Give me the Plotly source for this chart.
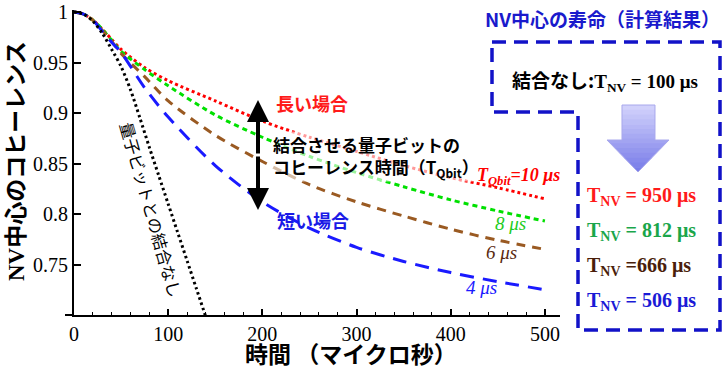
import plotly.graph_objects as go

# ---------------- data ----------------
t_grid = [0, 10, 20, 30, 40, 50, 75, 100, 150, 200, 250, 300, 350, 400, 450, 500]
coh_10us = [1, 0.998, 0.992, 0.983, 0.973, 0.963, 0.945, 0.932, 0.912, 0.892, 0.876, 0.862, 0.848, 0.836, 0.826, 0.815]
coh_8us = [1, 0.998, 0.992, 0.983, 0.972, 0.961, 0.943, 0.927, 0.898, 0.876, 0.857, 0.841, 0.827, 0.814, 0.803, 0.793]
coh_6us = [1, 0.998, 0.992, 0.982, 0.971, 0.959, 0.936, 0.912, 0.878, 0.852, 0.829, 0.812, 0.798, 0.785, 0.774, 0.765]
coh_4us = [1, 0.998, 0.992, 0.981, 0.970, 0.960, 0.925, 0.896, 0.848, 0.812, 0.786, 0.767, 0.753, 0.742, 0.733, 0.725]
t_free = [0, 10, 20, 30, 40, 50, 60, 70, 80, 90, 100, 110, 120, 130, 140]
coh_free = [1, 0.998, 0.991, 0.979, 0.963, 0.946, 0.923, 0.895, 0.866, 0.838, 0.810, 0.782, 0.754, 0.726, 0.698]

x_ticks = [0, 100, 200, 300, 400, 500]
y_ticks = [0.75, 0.8, 0.85, 0.9, 0.95, 1.0]
y_ticktext = ["0.75", "0.8", "0.85", "0.9", "0.95", "1"]

qbit_labels = ["T<sub>Qbit</sub>=10 μs", "8 μs", "6 μs", "4 μs"]
tnv_labels = ["T<sub>NV</sub> = 950 μs", "T<sub>NV</sub> = 812 μs", "T<sub>NV</sub> =666 μs", "T<sub>NV</sub> = 506 μs"]

# ---------------- layout constants ----------------
W, H = 727, 368
L, R, T, B = 74, 167, 10, 53
PW, PH = W - L - R, H - T - B


def px(x, y):
    return (x - L) / PW, (H - B - y) / PH


SERIF = "Liberation Serif"
JP = "Noto Sans CJK JP"

RED = "#ff0000"
GREEN = "#00e000"
BROWN = "#9a5a22"
BLUE = "#1a1aff"

fig = go.Figure()

styles = [
    (coh_10us, RED, "3px,3px"),
    (coh_8us, GREEN, "5px,4px"),
    (coh_6us, BROWN, "9px,7px"),
    (coh_4us, BLUE, "14px,9px"),
]
for ys, col, dash in styles:
    fig.add_trace(go.Scatter(x=t_grid, y=ys, mode="lines",
                             line=dict(color=col, width=3, dash=dash, shape="spline", smoothing=0.8),
                             showlegend=False, hoverinfo="skip"))
fig.add_trace(go.Scatter(x=t_free, y=coh_free, mode="lines",
                         line=dict(color="black", width=3, dash="2.5px,3px", shape="spline", smoothing=0.8),
                         showlegend=False, hoverinfo="skip"))

fig.update_layout(
    width=W, height=H,
    margin=dict(l=L, r=R, t=T, b=B, autoexpand=False),
    paper_bgcolor="white", plot_bgcolor="white",
    font=dict(family=SERIF, size=20, color="black"),
    xaxis=dict(range=[0, 516], tickvals=x_ticks, ticks="inside", ticklen=6, tickwidth=1.5,
               tickcolor="black", showline=True, linecolor="black", linewidth=2, showgrid=False,
               zeroline=False, tickfont=dict(family=SERIF, size=20), automargin=False,
               minor=dict(dtick=20, ticks="inside", ticklen=3, tickcolor="black", tickwidth=1, showgrid=False)),
    yaxis=dict(range=[0.7, 1.002], tickvals=y_ticks, ticktext=y_ticktext, ticks="inside", ticklen=7,
               tickwidth=1.5, tickcolor="black", showline=True, linecolor="black", linewidth=2,
               showgrid=False, zeroline=False, tickfont=dict(family=SERIF, size=20), automargin=False),
)

ann = []


def add_text(x, y, text, size, color="black", family=JP, bold=True, italic=False, angle=0,
             xanchor="center", bg=None, align="center"):
    xp, yp = px(x, y)
    d = dict(x=xp, y=yp, xref="paper", yref="paper", text=text, showarrow=False,
             xanchor=xanchor, yanchor="middle", textangle=angle, align=align,
             font=dict(family=family, size=size, color=color,
                       weight="bold" if bold else "normal",
                       style="italic" if italic else "normal"))
    if bg:
        d["bgcolor"] = bg
        d["borderpad"] = 0
    ann.append(d)


# axis titles
add_text(14, 161, "<span style='font-family:Liberation Serif'>NV</span>中心のコヒーレンス", 23, angle=-90)
add_text(243, 353, "時間 （マイクロ秒）", 23, xanchor="left")

# in-plot labels
add_text(312, 103, "長い場合", 18, color="#ff1a1a")
add_text(313, 220, "短い場合", 18, color="#1a1ae6")
add_text(272, 156, "結合させる量子ビットの<br>コヒーレンス時間（T<sub>Qbit</sub>）", 17,
         xanchor="left", bg="rgba(255,255,255,0.6)", align="left")
add_text(151, 209, "量子ビットとの結合なし", 16.5, angle=74, bold=False)

add_text(518, 176, qbit_labels[0], 18, color=RED, family=SERIF, italic=True)
add_text(510, 223, qbit_labels[1], 19, color="#22cc22", family=SERIF, italic=True, bold=False)
add_text(501, 252, qbit_labels[2], 19, color="#5a2a10", family=SERIF, italic=True, bold=False)
add_text(481, 287, qbit_labels[3], 19, color=BLUE, family=SERIF, italic=True, bold=False)

# right panel
add_text(602, 18, "NV中心の寿命（計算結果）", 19, color="#1a1acc")
add_text(510, 80, "結合なし:<span style='font-family:Liberation Serif'>T<sub>NV</sub> = 100 μs</span>", 19,
         xanchor="left")
tnv_colors = ["#ff1a1a", "#1aa64a", "#4a1e0a", "#1a1ad6"]
tnv_y = [196, 231, 266, 301]
for lab, col, yy in zip(tnv_labels, tnv_colors, tnv_y):
    add_text(585, yy, lab, 20, color=col, family=SERIF, xanchor="left")

# double arrow
for tip_y, ay in [(100, 55), (210, -55)]:
    xp, yp = px(258, tip_y)
    ann.append(dict(x=xp, y=yp, xref="paper", yref="paper", ax=0, ay=ay, text="",
                    showarrow=True, arrowhead=2, arrowsize=1.1, arrowwidth=4, arrowcolor="black"))

fig.update_layout(annotations=ann)

shapes = []


def path(points, close=True):
    s = ""
    for i, (x, y) in enumerate(points):
        xp, yp = px(x, y)
        s += ("M" if i == 0 else "L") + f"{xp:.5f},{yp:.5f} "
    return s + ("Z" if close else "")


# dashed outline box
box = [(492, 42), (720, 42), (720, 330), (578, 330), (578, 112), (492, 112)]
shapes.append(dict(type="path", xref="paper", yref="paper", path=path(box),
                   line=dict(color="#1212c8", width=3.5, dash="14px,8px")))

# gradient down arrow (horizontal slices)
sx0, sx1, stop, sbot = 622, 655, 105, 140
hx0, hx1, tipy = 607, 669, 172
tipx = (hx0 + hx1) / 2


def arrow_halfwidth(y):
    return (hx1 - hx0) / 2 * (tipy - y) / (tipy - sbot)


n = 14
c0 = (212, 212, 252)
c1 = (118, 122, 232)
for i in range(n):
    y0 = stop + (tipy - stop) * i / n
    y1 = stop + (tipy - stop) * (i + 1) / n + 0.6
    y1 = min(y1, tipy)
    pts = []
    if y1 <= sbot:
        pts = [(sx0, y0), (sx1, y0), (sx1, y1), (sx0, y1)]
    elif y0 >= sbot:
        h0, h1 = arrow_halfwidth(y0), arrow_halfwidth(y1)
        pts = [(tipx - h0, y0), (tipx + h0, y0), (tipx + h1, y1), (tipx - h1, y1)]
    else:
        h1 = arrow_halfwidth(y1)
        pts = [(sx0, y0), (sx1, y0), (sx1, sbot), (hx1, sbot), (tipx + h1, y1), (tipx - h1, y1),
               (hx0, sbot), (sx0, sbot)]
    f = (i + 0.5) / n
    col = tuple(round(c0[k] + (c1[k] - c0[k]) * f) for k in range(3))
    shapes.append(dict(type="path", xref="paper", yref="paper", path=path(pts),
                       fillcolor=f"rgb{col}", line=dict(width=0)))
outline = [(sx0, stop), (sx1, stop), (sx1, sbot), (hx1, sbot), (tipx, tipy), (hx0, sbot), (sx0, sbot)]
shapes.append(dict(type="path", xref="paper", yref="paper", path=path(outline),
                   line=dict(color="#a8a8ec", width=1)))

# x-axis line extends slightly left of the y-axis
xa, ya = px(65, 315)
shapes.append(dict(type="line", xref="paper", yref="paper", x0=xa, x1=0, y0=0, y1=0,
                   line=dict(color="black", width=2)))

fig.update_layout(shapes=shapes)
fig.write_html("out.html", config={"displayModeBar": False},
               post_script="document.body.style.margin='0';document.body.style.padding='0';"
                           "document.body.style.overflow='hidden';")
